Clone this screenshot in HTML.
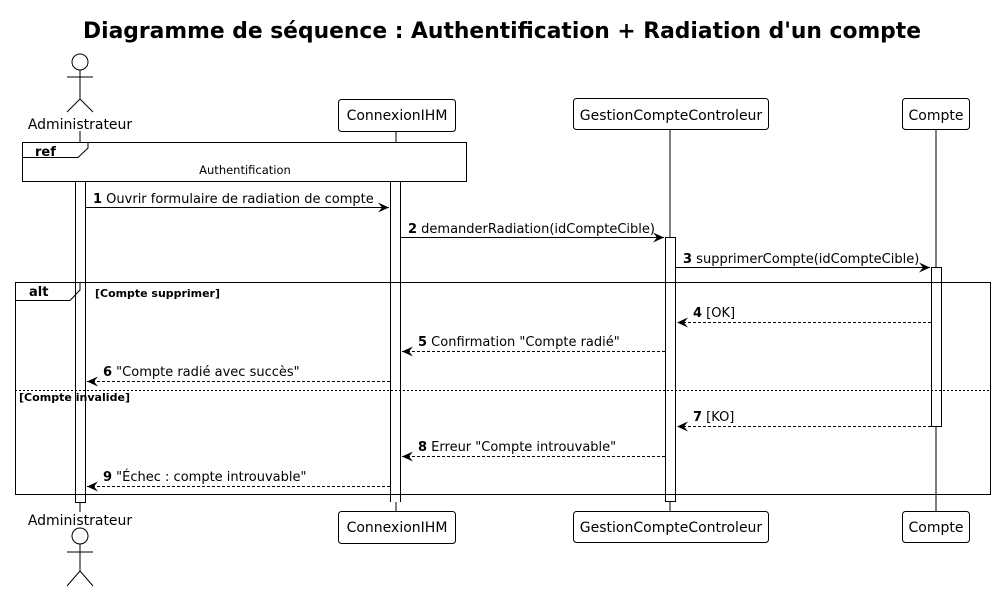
<!DOCTYPE html>
<html><head><meta charset="utf-8"><style>
html,body{margin:0;padding:0;background:#fff;}
svg{display:block;font-family:"DejaVu Sans","Liberation Sans",sans-serif;}
</style></head><body>
<svg width="996" height="592" viewBox="0 0 996 592" xmlns="http://www.w3.org/2000/svg">
<defs>
<marker id="a" markerWidth="12" markerHeight="10" refX="11" refY="5" orient="auto" markerUnits="userSpaceOnUse">
<path d="M0,0 L11,5 L0,10 L4,5 Z" fill="#000"/>
</marker>
<marker id="o" markerWidth="12" markerHeight="10" refX="11" refY="5" orient="auto" markerUnits="userSpaceOnUse">
<path d="M0,0 L11,5 L0,10 L4,5 Z" fill="#000"/>
</marker>
</defs>
<text x="502" y="38" text-anchor="middle" font-size="22" font-weight="bold" textLength="838" lengthAdjust="spacingAndGlyphs">Diagramme de séquence : Authentification + Radiation d'un compte</text>

<g stroke="#000" stroke-width="1" fill="none">
<line x1="80" y1="131" x2="80" y2="142"/>
<line x1="80" y1="502" x2="80" y2="512"/>
<line x1="396" y1="131" x2="396" y2="142"/>
<line x1="396" y1="502" x2="396" y2="511"/>
<line x1="670" y1="129" x2="670" y2="237"/>
<line x1="670" y1="502" x2="670" y2="511"/>
<line x1="936" y1="129" x2="936" y2="267"/>
<line x1="936" y1="426" x2="936" y2="511"/>
<circle cx="80" cy="62" r="8"/>
<line x1="80" y1="70" x2="80" y2="99"/>
<line x1="67" y1="77" x2="93" y2="77"/>
<line x1="80" y1="99" x2="67" y2="112"/>
<line x1="80" y1="99" x2="93" y2="112"/>
<circle cx="80" cy="536" r="8"/>
<line x1="80" y1="544" x2="80" y2="571"/>
<line x1="67" y1="552" x2="93" y2="552"/>
<line x1="80" y1="571" x2="67" y2="586"/>
<line x1="80" y1="571" x2="93" y2="586"/>
<rect x="338.5" y="99.5" width="117" height="32" rx="3"/>
<rect x="338.5" y="511.5" width="117" height="32" rx="3"/>
<rect x="573.5" y="98.5" width="195" height="31" rx="3"/>
<rect x="573.5" y="511.5" width="195" height="31" rx="3"/>
<rect x="902.5" y="98.5" width="67" height="31" rx="3"/>
<rect x="902.5" y="511.5" width="67" height="31" rx="3"/>
<rect x="22.5" y="142.5" width="444" height="39" fill="#fff"/>
<path d="M22.5,157.5 L78,157.5 L88,148 L88,142.5" />
<rect x="75.5" y="181.5" width="10" height="321" fill="#fff"/>
<line x1="390.5" y1="181" x2="390.5" y2="502"/>
<line x1="400.5" y1="181" x2="400.5" y2="502"/>
<line x1="390.5" y1="181.5" x2="400.5" y2="181.5"/>
<rect x="665.5" y="237.5" width="10" height="264" fill="#fff"/>
<rect x="931.5" y="267.5" width="10" height="159" fill="#fff"/>
<rect x="15.5" y="282.5" width="975" height="212"/>
<path d="M15.5,300.5 L70,300.5 L80,290 L80,282.5"/>
<line x1="15" y1="390.5" x2="990" y2="390.5" stroke-dasharray="2,2"/>
<line x1="85" y1="207.5" x2="389" y2="207.5" marker-end="url(#a)"/>
<line x1="400" y1="237.5" x2="664" y2="237.5" marker-end="url(#a)"/>
<line x1="675" y1="267.5" x2="930" y2="267.5" marker-end="url(#a)"/>
<g stroke-dasharray="3,2">
<line x1="931" y1="322.5" x2="677" y2="322.5" marker-end="url(#o)"/>
<line x1="665" y1="351.5" x2="402" y2="351.5" marker-end="url(#o)"/>
<line x1="390" y1="381.5" x2="87" y2="381.5" marker-end="url(#o)"/>
<line x1="931" y1="426.5" x2="677" y2="426.5" marker-end="url(#o)"/>
<line x1="665" y1="456.5" x2="402" y2="456.5" marker-end="url(#o)"/>
<line x1="390" y1="486.5" x2="87" y2="486.5" marker-end="url(#o)"/>
</g>
</g>

<g font-size="14" text-anchor="middle">
<text x="80" y="129">Administrateur</text>
<text x="80" y="525">Administrateur</text>
<text x="397" y="120">ConnexionIHM</text>
<text x="397" y="532">ConnexionIHM</text>
<text x="671" y="120">GestionCompteControleur</text>
<text x="671" y="532">GestionCompteControleur</text>
<text x="936" y="120">Compte</text>
<text x="936" y="532">Compte</text>
</g>
<text x="35" y="156" font-size="13" font-weight="bold">ref</text>
<text x="245" y="174" font-size="11.5" text-anchor="middle">Authentification</text>
<text x="29" y="296" font-size="13" font-weight="bold">alt</text>
<text x="95" y="297" font-size="11" font-weight="bold" textLength="125" lengthAdjust="spacingAndGlyphs">[Compte supprimer]</text>
<text x="19" y="401" font-size="11" font-weight="bold" textLength="111" lengthAdjust="spacingAndGlyphs">[Compte invalide]</text>

<g font-size="13">
<text x="93" y="203"><tspan font-weight="bold">1</tspan> Ouvrir formulaire de radiation de compte</text>
<text x="408" y="233"><tspan font-weight="bold">2</tspan> demanderRadiation(idCompteCible)</text>
<text x="683" y="263"><tspan font-weight="bold">3</tspan> supprimerCompte(idCompteCible)</text>
<text x="693" y="317"><tspan font-weight="bold">4</tspan> [OK]</text>
<text x="418" y="346"><tspan font-weight="bold">5</tspan> Confirmation "Compte radié"</text>
<text x="103" y="376"><tspan font-weight="bold">6</tspan> "Compte radié avec succès"</text>
<text x="693" y="421"><tspan font-weight="bold">7</tspan> [KO]</text>
<text x="418" y="451"><tspan font-weight="bold">8</tspan> Erreur "Compte introuvable"</text>
<text x="103" y="481"><tspan font-weight="bold">9</tspan> "Échec : compte introuvable"</text>
</g>
</svg>
</body></html>
